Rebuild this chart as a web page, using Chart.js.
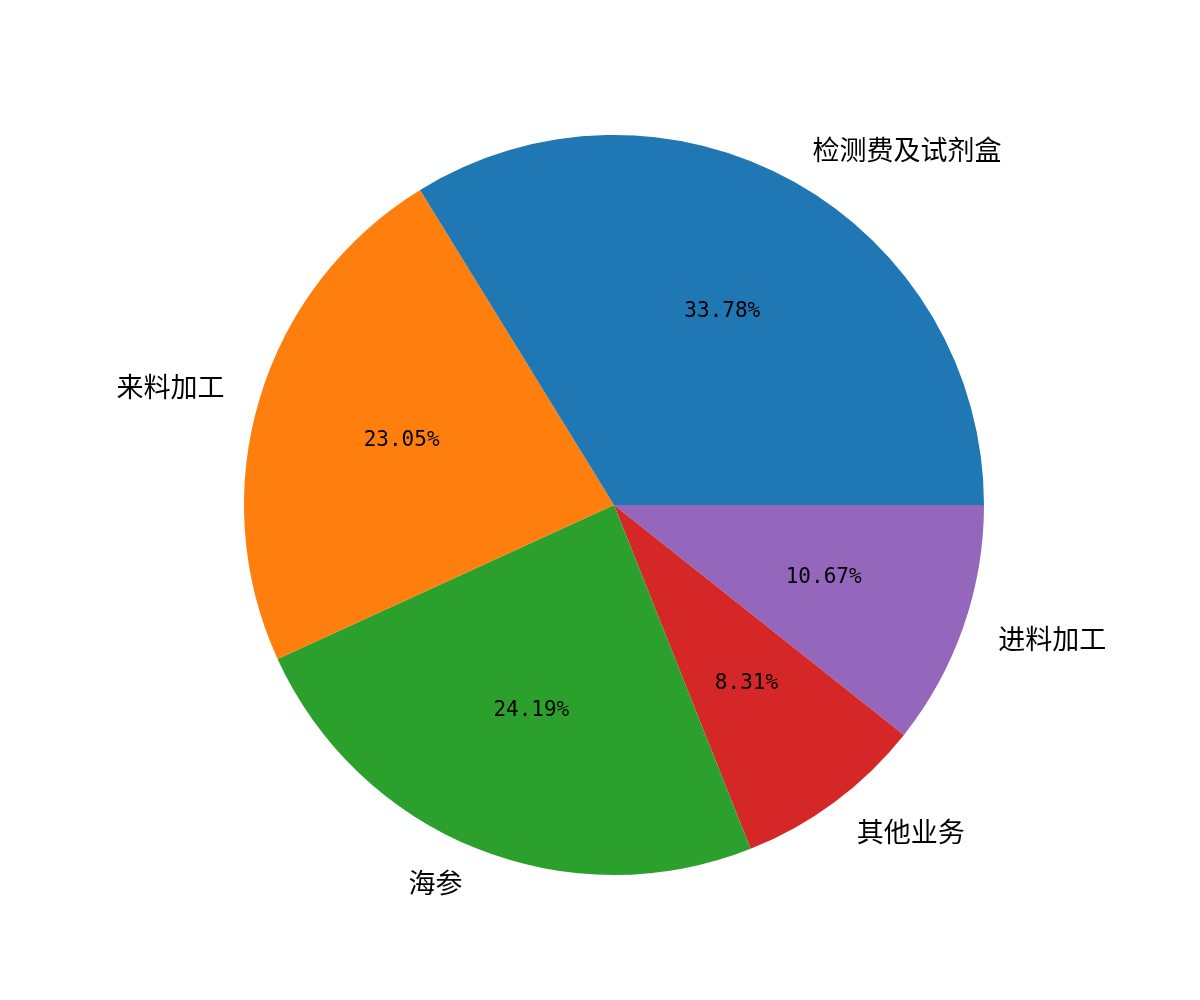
<!DOCTYPE html>
<html>
<head>
<meta charset="utf-8">
<script src="https://cdn.jsdelivr.net/npm/chart.js@4"></script>
<style>
  body { margin: 0; background: #fff; }
  canvas { display: block; }
</style>
</head>
<body>
<canvas id="pieChart" width="1200" height="1000"></canvas>
<script>
// matplotlib order: counterclockwise from 3 o'clock
const categories = ["检测费及试剂盒", "来料加工", "海参", "其他业务", "进料加工"];
const shares = [33.78, 23.05, 24.19, 8.31, 10.67];
const colors = ["#1f77b4", "#ff7f0e", "#2ca02c", "#d62728", "#9467bd"];

// Chart.js draws clockwise, so feed the slices reversed
const labels = categories.slice().reverse();
const values = shares.slice().reverse();
const bg = colors.slice().reverse();

const pieLabels = {
  id: "pieLabels",
  afterDraw(chart) {
    const ctx = chart.ctx;
    const meta = chart.getDatasetMeta(0);
    const total = values.reduce((a, b) => a + b, 0);
    ctx.save();
    ctx.fillStyle = "#000";
    meta.data.forEach((arc, i) => {
      const mid = (arc.startAngle + arc.endAngle) / 2;
      const r = arc.outerRadius;
      const cx = arc.x, cy = arc.y;

      // category label at 1.1 r
      const lx = cx + Math.cos(mid) * r * 1.1;
      const ly = cy + Math.sin(mid) * r * 1.1;
      ctx.font = '27px "Noto Sans CJK SC"';
      ctx.textAlign = Math.cos(mid) >= 0 ? "left" : "right";
      ctx.textBaseline = "middle";
      ctx.fillText(labels[i], lx, ly);

      // percentage at 0.6 r
      const px = cx + Math.cos(mid) * r * 0.6;
      const py = cy + Math.sin(mid) * r * 0.6;
      ctx.font = '21px "DejaVu Sans Mono"';
      ctx.textAlign = "center";
      ctx.fillText((values[i] / total * 100).toFixed(2) + "%", px, py);
    });
    ctx.restore();
  }
};

new Chart(document.getElementById("pieChart"), {
  type: "pie",
  data: {
    labels: labels,
    datasets: [{
      data: values,
      backgroundColor: bg,
      borderWidth: 0,
      hoverOffset: 0
    }]
  },
  options: {
    responsive: false,
    animation: false,
    devicePixelRatio: 1,
    rotation: 90,
    layout: {
      padding: { top: 135, bottom: 125, left: 244, right: 216 }
    },
    plugins: {
      legend: { display: false },
      tooltip: { enabled: false }
    }
  },
  plugins: [pieLabels]
});
</script>
</body>
</html>
